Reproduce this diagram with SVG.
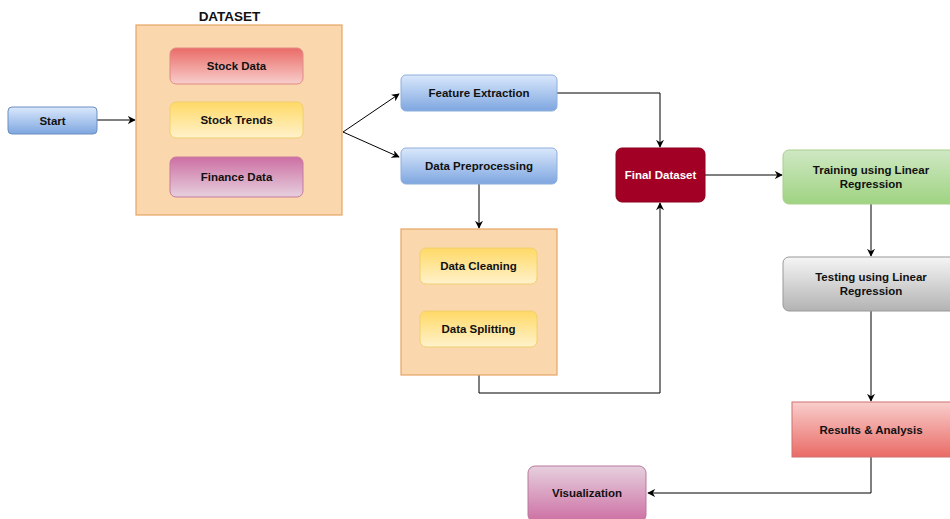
<svg xmlns="http://www.w3.org/2000/svg" width="950" height="519" viewBox="0 0 950 519">
<defs>
<linearGradient id="gBlue" x1="0" y1="0" x2="0" y2="1"><stop offset="0" stop-color="#dae8fc"/><stop offset="1" stop-color="#7ea6e0"/></linearGradient>
<linearGradient id="gRedDown" x1="0" y1="0" x2="0" y2="1"><stop offset="0" stop-color="#ea6b66"/><stop offset="1" stop-color="#f8cecc"/></linearGradient>
<linearGradient id="gRedUp" x1="0" y1="0" x2="0" y2="1"><stop offset="0" stop-color="#f8cecc"/><stop offset="1" stop-color="#ea6b66"/></linearGradient>
<linearGradient id="gYellow" x1="0" y1="0" x2="0" y2="1"><stop offset="0" stop-color="#ffd966"/><stop offset="1" stop-color="#fff2cc"/></linearGradient>
<linearGradient id="gPinkDown" x1="0" y1="0" x2="0" y2="1"><stop offset="0" stop-color="#cd6fa3"/><stop offset="1" stop-color="#e6d0de"/></linearGradient>
<linearGradient id="gPinkUp" x1="0" y1="0" x2="0" y2="1"><stop offset="0" stop-color="#e6d0de"/><stop offset="1" stop-color="#cd6fa3"/></linearGradient>
<linearGradient id="gGreen" x1="0" y1="0" x2="0" y2="1"><stop offset="0" stop-color="#cfe8c4"/><stop offset="1" stop-color="#9fd381"/></linearGradient>
<linearGradient id="gGray" x1="0" y1="0" x2="0" y2="1"><stop offset="0" stop-color="#f5f5f5"/><stop offset="1" stop-color="#b3b3b3"/></linearGradient>
<marker id="arr" viewBox="0 0 10 10" refX="9" refY="5" markerWidth="8" markerHeight="8" markerUnits="userSpaceOnUse" orient="auto"><path d="M0,0 L10,5 L0,10 L3,5 Z" fill="#000"/></marker>
</defs>
<style>
text{font-family:"Liberation Sans",Arial,sans-serif;font-weight:bold;font-size:11.5px;fill:#111111;text-anchor:middle;dominant-baseline:central}
.white{fill:#ffffff}
.conn{fill:none;stroke:#000;stroke-width:1;marker-end:url(#arr)}
.cont{fill:#fad7ac;stroke:#e6a564;stroke-width:1.2}
</style>
<rect width="950" height="519" fill="#ffffff"/>

<g id="connectors">
<path class="conn" d="M97,120 H135"/>
<path class="conn" d="M343,132 L399,94"/>
<path class="conn" d="M343,132 L399,157"/>
<path class="conn" d="M557,93 H660 V147"/>
<path class="conn" d="M479,184 V228"/>
<path class="conn" d="M479,375 V393 H660 V203"/>
<path class="conn" d="M705,175 H782"/>
<path class="conn" d="M871,204 V256"/>
<path class="conn" d="M871,311 V401"/>
<path class="conn" d="M871,457 V493 H648"/>
</g>

<g id="start"><rect x="8" y="107" width="89" height="27" rx="4" fill="url(#gBlue)" stroke="#6c8ebf"/><text x="52.5" y="120.5">Start</text></g>

<g id="dataset">
<text x="229.5" y="16" style="font-size:13.5px">DATASET</text>
<rect class="cont" x="136" y="25" width="206" height="190"/>
</g>
<g id="stock-data"><rect x="170" y="48" width="133" height="36" rx="6" fill="url(#gRedDown)" stroke="#e08a85"/><text x="236.5" y="66">Stock Data</text></g>
<g id="stock-trends"><rect x="170" y="102" width="133" height="36" rx="6" fill="url(#gYellow)" stroke="#f0d070"/><text x="236.5" y="120">Stock Trends</text></g>
<g id="finance-data"><rect x="170" y="157" width="133" height="40" rx="6" fill="url(#gPinkDown)" stroke="#c77aa0"/><text x="236.5" y="177">Finance Data</text></g>

<g id="feature-extraction"><rect x="401" y="75" width="156" height="36" rx="5" fill="url(#gBlue)" stroke="#8eaedb"/><text x="479" y="93">Feature Extraction</text></g>
<g id="data-preprocessing"><rect x="401" y="148" width="156" height="36" rx="5" fill="url(#gBlue)" stroke="#8eaedb"/><text x="479" y="166">Data Preprocessing</text></g>

<g id="preprocessing-box"><rect class="cont" x="401" y="229" width="156" height="146"/></g>
<g id="data-cleaning"><rect x="420" y="248" width="117" height="36" rx="6" fill="url(#gYellow)" stroke="#f0d070"/><text x="478.5" y="266">Data Cleaning</text></g>
<g id="data-splitting"><rect x="420" y="311" width="117" height="36" rx="6" fill="url(#gYellow)" stroke="#f0d070"/><text x="478.5" y="329">Data Splitting</text></g>

<g id="final-dataset"><rect x="616" y="148" width="89" height="54" rx="6" fill="#a20025" stroke="#8a001f"/><text class="white" x="660.5" y="175">Final Dataset</text></g>

<g id="training"><rect x="783" y="150" width="176" height="54" rx="6" fill="url(#gGreen)" stroke="#a8d08d"/><text x="871" y="169.5">Training using Linear</text><text x="871" y="184">Regression</text></g>
<g id="testing"><rect x="783" y="257" width="176" height="54" rx="6" fill="url(#gGray)" stroke="#999999"/><text x="871" y="276.5">Testing using Linear</text><text x="871" y="291">Regression</text></g>
<g id="results"><rect x="792" y="402" width="166" height="55" fill="url(#gRedUp)" stroke="#d07070"/><text x="871" y="429.5">Results &amp; Analysis</text></g>
<g id="visualization"><rect x="528" y="466" width="118" height="56" rx="7" fill="url(#gPinkUp)" stroke="#b8799b"/><text x="587" y="492.5">Visualization</text></g>
</svg>
